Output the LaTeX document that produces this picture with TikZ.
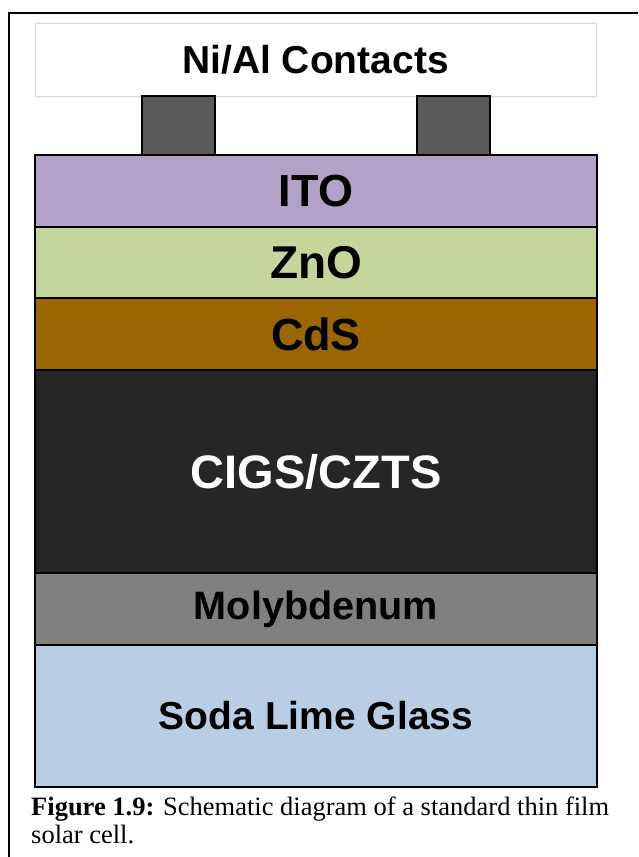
\documentclass[tikz,border=0pt]{standalone}
\usepackage{fontspec}
\setmainfont{Liberation Serif}
\newfontfamily\arialf{Liberation Sans}
\definecolor{itoC}{HTML}{B3A2C7}
\definecolor{znoC}{HTML}{C3D69B}
\definecolor{cdsC}{HTML}{996600}
\definecolor{cigsC}{HTML}{262626}
\definecolor{moC}{HTML}{808080}
\definecolor{glassC}{HTML}{B9CDE5}
\definecolor{contC}{HTML}{5A5A5A}
\definecolor{boxC}{HTML}{D4D4D4}
\newcommand{\fsz}[1]{\fontsize{#1}{#1}\selectfont}
\begin{document}
\begin{tikzpicture}[x=1pt,y=-1pt,
  layer/.style={draw=black, line width=2.5pt, inner sep=0pt, minimum width=562pt},
  contact/.style={draw=black, line width=2pt, fill=contC, inner sep=0pt, minimum width=73pt, minimum height=59pt},
  lbl/.style={font=\arialf\bfseries\fsz{#1}},
  captxt/.style={anchor=base west, inner sep=0pt, font=\fsz{26.5}}
]
\useasboundingbox (0,0) rectangle (638,857);
% frame
\coordinate (fb) at (9,857);
\coordinate (ftl) at (9,13);
\coordinate (ftr) at (638,13);
\draw[line width=2pt] (fb) -- (ftl) -- (ftr);
% contacts box
\node[draw=boxC, line width=1pt, fill=white, inner sep=0pt, minimum width=561pt, minimum height=73pt, lbl=39] (ni) at (315.5,59.5) {Ni/Al Contacts};
\node[contact] (c1) at (178.5,125.5) {};
\node[contact] (c2) at (453,125.5) {};
% layers
\node[layer, fill=glassC, minimum height=142pt, lbl=39] (glass) at (316,716) {Soda Lime Glass};
\node[layer, fill=moC, minimum height=72pt, lbl=39.6] (mo) at (316,609) {Molybdenum};
\node[layer, fill=cigsC, minimum height=203pt, lbl=47, text=white] (cigs) at (316,471.5) {CIGS/CZTS};
\node[layer, fill=cdsC, minimum height=72pt, lbl=45] (cds) at (316,334) {CdS};
\node[layer, fill=znoC, minimum height=71pt, lbl=46] (zno) at (316,262.5) {ZnO};
\node[layer, fill=itoC, minimum height=72pt, lbl=45] (ito) at (316,191) {ITO};
% caption
\node[captxt] (cap1) at (31,815) {\textbf{Figure 1.9:} Schematic diagram of a standard thin film};
\node[captxt] (cap2) at (31,843) {solar cell.};
\end{tikzpicture}
\end{document}
